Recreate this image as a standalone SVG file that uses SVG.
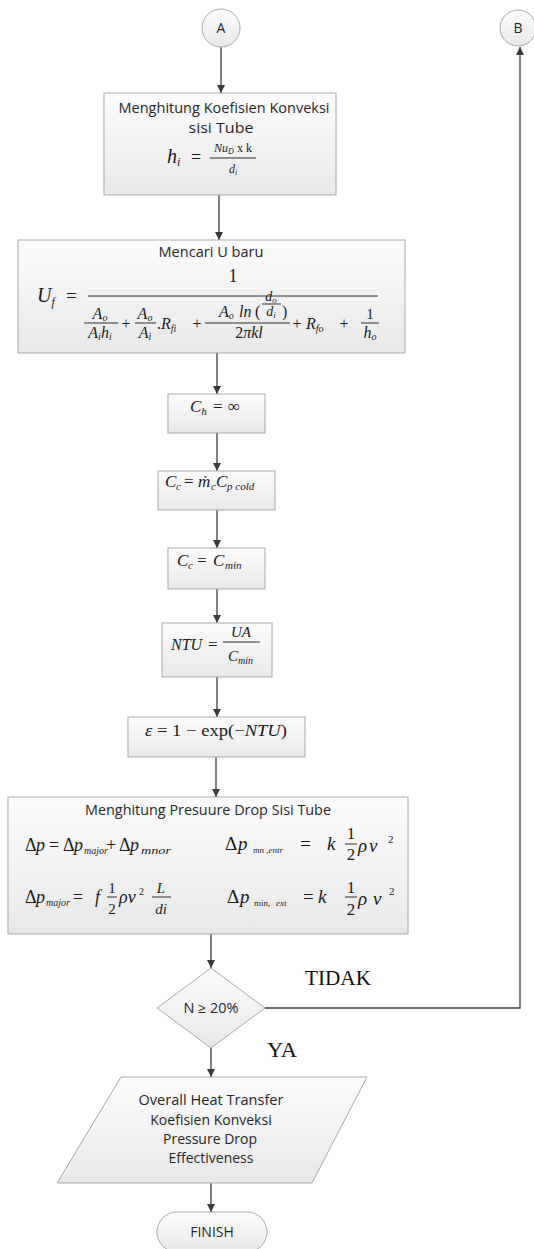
<svg xmlns="http://www.w3.org/2000/svg" width="534" height="1249" viewBox="0 0 534 1249">
<defs>
<linearGradient id="g" x1="0" y1="0" x2="0" y2="1"><stop offset="0" stop-color="#fcfcfc"/><stop offset="1" stop-color="#e8e8e8"/></linearGradient>
<marker id="ah" viewBox="0 0 10 10" refX="10" refY="5" markerWidth="8" markerHeight="8" markerUnits="userSpaceOnUse" orient="auto"><path d="M0,0 L10,5 L0,10 z" fill="#3a3a3a"/></marker>
</defs>
<style>
.box{fill:url(#g);stroke:#a9a9a9;stroke-width:1}
.lbl{font-family:"Open Sans",Lato,"Liberation Sans",sans-serif;font-size:14px;fill:#262626;text-anchor:middle}
.m{font-family:"Liberation Serif","Times New Roman",serif;font-style:italic;fill:#1a1a1a}
.r{font-style:normal}
.c{text-anchor:middle}
.conn path{fill:none;stroke:#3a3a3a;stroke-width:1.3;marker-end:url(#ah)}
.bar{stroke:#1a1a1a;stroke-width:0.9}
.tm{font-family:"Liberation Serif","Times New Roman",serif;font-size:20px;fill:#111}
</style>
<rect width="534" height="1249" fill="#ffffff"/>

<g id="conn" class="conn">
<path d="M221,47 V93"/>
<path d="M219,195 V240"/>
<path d="M217,353 V394"/>
<path d="M217,433 V471"/>
<path d="M217,510 V548"/>
<path d="M217,589 V623"/>
<path d="M217,677 V717"/>
<path d="M216,757 V797"/>
<path d="M211,934 V968"/>
<path d="M211,1048 V1077"/>
<path d="M211,1183 V1212"/>
<path d="M265,1008 H520 V47"/>
</g>

<g id="nodeA">
<circle cx="221" cy="28" r="19" class="box"/>
<text class="lbl" x="221" y="33" font-size="13">A</text>
</g>

<g id="nodeB">
<circle cx="518" cy="28" r="18" class="box"/>
<text class="lbl" x="518" y="33" font-size="13">B</text>
</g>

<g id="box1">
<rect x="104" y="93" width="232" height="102" class="box"/>
<text class="lbl" x="224" y="113" textLength="211" lengthAdjust="spacingAndGlyphs">Menghitung Koefisien Konveksi</text>
<text class="lbl" x="221" y="133" textLength="65" lengthAdjust="spacingAndGlyphs">sisi Tube</text>
<text class="m" x="167" y="163" font-size="20">h<tspan font-size="12" dy="3">i</tspan></text>
<text class="m r" x="191" y="163" font-size="18">=</text>
<text class="m c" x="233" y="152" font-size="12">Nu<tspan font-size="8" dy="2">D</tspan><tspan class="r" dy="-2" font-size="12"> x k</tspan></text>
<line class="bar" x1="210" y1="158" x2="256" y2="158"/>
<text class="m c" x="233" y="173" font-size="12">d<tspan font-size="8" dy="2">i</tspan></text>
</g>

<g id="box2">
<rect x="18" y="240" width="387" height="113" class="box"/>
<text class="lbl" x="211" y="257" textLength="105" lengthAdjust="spacingAndGlyphs">Mencari U baru</text>
<text class="m" x="37" y="302" font-size="20">U<tspan font-size="12" dy="4">f</tspan></text>
<text class="m r" x="66" y="302" font-size="19">=</text>
<line class="bar" x1="88" y1="296" x2="378" y2="296" stroke-width="1.1"/>
<text class="m r c" x="233" y="282" font-size="18">1</text>
<text class="m c" x="100" y="319" font-size="16">A<tspan font-size="10" dy="2">o</tspan></text>
<line class="bar" x1="84" y1="323" x2="118" y2="323"/>
<text class="m c" x="100" y="338" font-size="16">A<tspan font-size="10" dy="2">i</tspan><tspan dy="-2">h</tspan><tspan font-size="10" dy="2">i</tspan></text>
<text class="m r c" x="126" y="329" font-size="16">+</text>
<text class="m c" x="145" y="319" font-size="16">A<tspan font-size="10" dy="2">o</tspan></text>
<line class="bar" x1="135" y1="323" x2="156" y2="323"/>
<text class="m c" x="145" y="338" font-size="16">A<tspan font-size="10" dy="2">i</tspan></text>
<text class="m" x="157" y="329" font-size="16"><tspan class="r">.</tspan>R<tspan font-size="10" dy="3">fi</tspan></text>
<text class="m r c" x="197" y="329" font-size="16">+</text>
<text class="m" x="219" y="317" font-size="16">A<tspan font-size="10" dy="2">o</tspan></text>
<text class="m" x="239" y="317" font-size="16">ln</text>
<text class="m r" x="255" y="317" font-size="16">(</text>
<text class="m c" x="271" y="301" font-size="14">d<tspan font-size="9" dy="2">o</tspan></text>
<line class="bar" x1="262" y1="304" x2="281" y2="304"/>
<text class="m c" x="271" y="316" font-size="14">d<tspan font-size="9" dy="2">i</tspan></text>
<text class="m r" x="282" y="317" font-size="16">)</text>
<line class="bar" x1="205" y1="323" x2="290" y2="323"/>
<text class="m c" x="249" y="338" font-size="16"><tspan class="r">2</tspan>πkl</text>
<text class="m r c" x="297" y="329" font-size="16">+</text>
<text class="m" x="306" y="329" font-size="16">R<tspan font-size="10" dy="3">fo</tspan></text>
<text class="m r c" x="344" y="329" font-size="16">+</text>
<text class="m r c" x="370" y="319" font-size="15">1</text>
<line class="bar" x1="361" y1="323" x2="379" y2="323"/>
<text class="m c" x="370" y="338" font-size="16">h<tspan font-size="10" dy="2">o</tspan></text>
</g>

<g id="boxCh">
<rect x="168" y="394" width="97" height="39" class="box"/>
<text class="m" y="412" font-size="17"><tspan x="190">C</tspan><tspan font-size="11" y="415">h</tspan><tspan class="r" x="213" y="412">=</tspan><tspan class="r" x="228">∞</tspan></text>
</g>

<g id="boxCc">
<rect x="158" y="471" width="117" height="39" class="box"/>
<text class="m" y="487" font-size="17"><tspan x="165">C</tspan><tspan font-size="11" x="176" y="490">c</tspan><tspan class="r" x="184" y="487">=</tspan><tspan x="198">ṁ</tspan><tspan font-size="11" x="211" y="490">c</tspan><tspan x="216" y="487">C</tspan><tspan font-size="11" x="227" y="490">p cold</tspan></text>
</g>

<g id="boxCmin">
<rect x="168" y="548" width="97" height="41" class="box"/>
<text class="m" y="566" font-size="17"><tspan x="177">C</tspan><tspan font-size="11" x="188" y="569">c</tspan><tspan class="r" x="197" y="566">=</tspan><tspan x="213">C</tspan><tspan font-size="11" x="225" y="569">min</tspan></text>
</g>

<g id="boxNTU">
<rect x="162" y="623" width="110" height="54" class="box"/>
<text class="m" x="171" y="650" font-size="16">NTU</text>
<text class="m r" x="208" y="650" font-size="17">=</text>
<text class="m c" x="241" y="637" font-size="15">UA</text>
<line class="bar" x1="223" y1="642" x2="260" y2="642"/>
<text class="m" y="661" font-size="15"><tspan x="228">C</tspan><tspan font-size="10" x="238" y="664">min</tspan></text>
</g>

<g id="boxEps">
<rect x="128" y="717" width="177" height="40" class="box"/>
<text class="m" x="145" y="736" font-size="17" textLength="142" lengthAdjust="spacingAndGlyphs">ε<tspan class="r"> = 1 − exp(−</tspan>NTU<tspan class="r">)</tspan></text>
</g>

<g id="boxDP">
<rect x="8" y="797" width="400" height="137" class="box"/>
<text class="lbl" x="208" y="815" textLength="246" lengthAdjust="spacingAndGlyphs">Menghitung Presuure Drop Sisi Tube</text>
<text class="m" font-size="18" y="851"><tspan class="r" x="25">Δ</tspan><tspan x="36">p</tspan><tspan class="r" x="49">=</tspan><tspan class="r" x="63">Δ</tspan><tspan x="74">p</tspan><tspan font-size="10" x="84" y="854">major</tspan><tspan class="r" x="106" y="851">+</tspan><tspan class="r" x="119">Δ</tspan><tspan x="130">p</tspan><tspan font-size="10" x="141" y="854" textLength="30" lengthAdjust="spacingAndGlyphs">mnor</tspan></text>
<text class="m" font-size="18" y="903"><tspan class="r" x="25">Δ</tspan><tspan x="36">p</tspan><tspan font-size="10" x="46" y="906">major</tspan><tspan class="r" x="73" y="903">=</tspan><tspan x="95">f</tspan><tspan x="119">ρv</tspan><tspan class="r" font-size="10" x="139" y="895">2</tspan></text>
<text class="m r c" x="112" y="893" font-size="15">1</text>
<line class="bar" x1="107" y1="897" x2="117" y2="897"/>
<text class="m r c" x="112" y="914" font-size="15">2</text>
<text class="m c" x="161" y="893" font-size="15">L</text>
<line class="bar" x1="152" y1="897" x2="171" y2="897"/>
<text class="m c" x="161" y="914" font-size="15">di</text>
<text class="m" font-size="19" y="850"><tspan class="r" x="225">Δ</tspan><tspan x="238">p</tspan><tspan font-size="9" x="253" y="853">mn ,entr</tspan><tspan class="r" x="300" y="850">=</tspan><tspan x="327">k</tspan><tspan x="358" y="852">ρ</tspan><tspan x="369">v</tspan><tspan class="r" font-size="11" x="388" y="843">2</tspan></text>
<text class="m r c" x="351" y="839" font-size="17">1</text>
<line class="bar" x1="345" y1="844" x2="357" y2="844"/>
<text class="m r c" x="351" y="860" font-size="17">2</text>
<text class="m" font-size="19" y="903"><tspan class="r" x="227">Δ</tspan><tspan x="240">p</tspan><tspan class="r" font-size="9" x="254" y="906">min,</tspan><tspan font-size="9" x="276">ext</tspan><tspan class="r" x="303" y="903">=</tspan><tspan x="318">k</tspan><tspan x="358" y="905">ρ</tspan><tspan x="373">v</tspan><tspan class="r" font-size="11" x="389" y="895">2</tspan></text>
<text class="m r c" x="351" y="893" font-size="17">1</text>
<line class="bar" x1="345" y1="897" x2="357" y2="897"/>
<text class="m r c" x="351" y="915" font-size="17">2</text>
</g>

<g id="decision">
<polygon points="211,968 265,1008 211,1048 157,1008" class="box"/>
<text class="lbl" x="211" y="1013" font-size="13" textLength="55" lengthAdjust="spacingAndGlyphs">N ≥ 20%</text>
</g>

<g id="labels">
<text class="tm" x="305" y="985" textLength="66" lengthAdjust="spacingAndGlyphs">TIDAK</text>
<text class="tm" x="267" y="1057" textLength="30" lengthAdjust="spacingAndGlyphs">YA</text>
</g>

<g id="output">
<polygon points="121,1077 367,1077 312,1183 57,1183" class="box"/>
<text class="lbl" x="211" y="1105" textLength="145" lengthAdjust="spacingAndGlyphs">Overall Heat Transfer</text>
<text class="lbl" x="211" y="1125">Koefisien Konveksi</text>
<text class="lbl" x="210" y="1144">Pressure Drop</text>
<text class="lbl" x="211" y="1163">Effectiveness</text>
</g>

<g id="finish">
<rect x="157" y="1212" width="110" height="40" rx="20" ry="20" class="box"/>
<text class="lbl" x="212" y="1237">FINISH</text>
</g>
</svg>
